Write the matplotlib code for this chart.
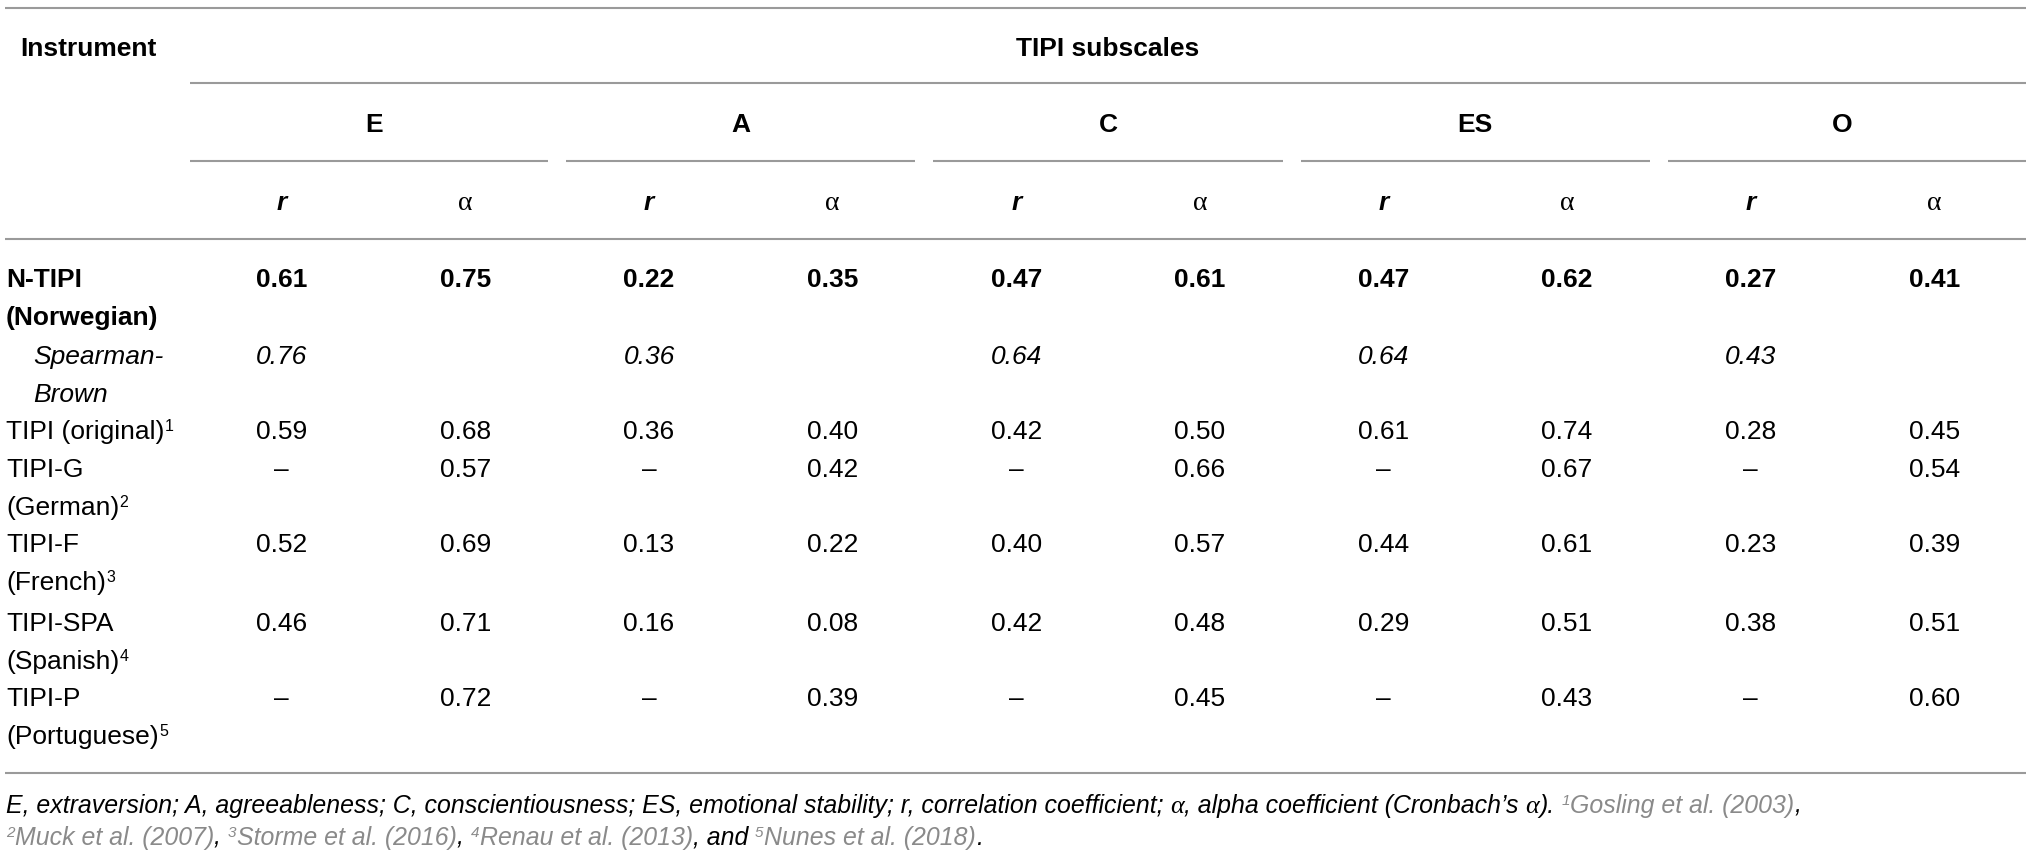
import numpy as np
import matplotlib
matplotlib.use("Agg")
import matplotlib.pyplot as plt

# ---------------- data ----------------
subscales = ["E", "A", "C", "ES", "O"]
stat_labels = ["r", "α"]

instruments = ["N-TIPI", "Spearman-", "TIPI (original)", "TIPI-G", "TIPI-F", "TIPI-SPA", "TIPI-P"]
instrument_line2 = ["(Norwegian)", "Brown", "", "(German)", "(French)", "(Spanish)", "(Portuguese)"]
instrument_refs = ["", "", "1", "2", "3", "4", "5"]

NA = np.nan      # shown as an en dash
BL = None        # blank cell
E_r  = [0.61, 0.76, 0.59, NA, 0.52, 0.46, NA]
E_a  = [0.75, BL,   0.68, 0.57, 0.69, 0.71, 0.72]
A_r  = [0.22, 0.36, 0.36, NA, 0.13, 0.16, NA]
A_a  = [0.35, BL,   0.40, 0.42, 0.22, 0.08, 0.39]
C_r  = [0.47, 0.64, 0.42, NA, 0.40, 0.42, NA]
C_a  = [0.61, BL,   0.50, 0.66, 0.57, 0.48, 0.45]
ES_r = [0.47, 0.64, 0.61, NA, 0.44, 0.29, NA]
ES_a = [0.62, BL,   0.74, 0.67, 0.61, 0.51, 0.43]
O_r  = [0.27, 0.43, 0.28, NA, 0.23, 0.38, NA]
O_a  = [0.41, BL,   0.45, 0.54, 0.39, 0.51, 0.60]
columns = [E_r, E_a, A_r, A_a, C_r, C_a, ES_r, ES_a, O_r, O_a]

footnote_line1 = [
    ("E, extraversion; A, agreeableness; C, conscientiousness; ES, emotional stability; r, correlation coefficient; ", "txt"),
    ("α", "alpha"),
    (", alpha coefficient (Cronbach’s ", "txt"),
    ("α", "alpha"),
    ("). ", "txt"),
    ("1", "sup"),
    ("Gosling et al. (2003)", "ref"),
    (",", "txt"),
]
footnote_line2 = [
    ("2", "sup"), ("Muck et al. (2007)", "ref"), (", ", "txt"),
    ("3", "sup"), ("Storme et al. (2016)", "ref"), (", ", "txt"),
    ("4", "sup"), ("Renau et al. (2013)", "ref"), (", and ", "txt"),
    ("5", "sup"), ("Nunes et al. (2018)", "ref"), (".", "txt"),
]

# ---------------- layout ----------------
W, H = 2032, 859
FONT = "Liberation Sans"
SERIF = "Liberation Serif"
FS = 19
FS_FOOT = 17.9
LINE_C = "#9a9a9a"
REF_C = "#8a8a8a"

fig = plt.figure(figsize=(W / 100, H / 100), dpi=100)
ax = fig.add_axes([0, 0, 1, 1])
ax.set_xlim(0, W)
ax.set_ylim(H, 0)
ax.axis("off")
fig.canvas.draw()
renderer = fig.canvas.get_renderer()

x_left, x_right = 5, 2026
x_data0 = 190
col_w = (x_right - x_data0) / 10.0
col_centers = [x_data0 + col_w * (i + 0.5) for i in range(10)]

def hline(y, x0, x1):
    ax.plot([x0, x1], [y, y], color=LINE_C, lw=1.5, solid_capstyle="butt")

# horizontal rules
hline(8, x_left, x_right)
hline(83, x_data0, x_right)
for g in range(5):
    g0 = x_data0 + 2 * g * col_w
    g1 = g0 + 2 * col_w
    a = g0 if g == 0 else g0 + 9
    b = x_right if g == 4 else g1 - 9
    hline(161, a, b)
hline(239, x_left, x_right)
hline(773, x_left, x_right)

# header texts
ax.text(20, 56, "Instrument", fontsize=FS, fontweight="bold", family=FONT, va="baseline", ha="left")
ax.text((x_data0 + x_right) / 2, 56, "TIPI subscales", fontsize=FS, fontweight="bold",
        family=FONT, va="baseline", ha="center")
for g, name in enumerate(subscales):
    cx = (col_centers[2 * g] + col_centers[2 * g + 1]) / 2
    ax.text(cx, 132, name, fontsize=FS, fontweight="bold", family=FONT, va="baseline", ha="center")
for i in range(10):
    if i % 2 == 0:
        ax.text(col_centers[i], 210, stat_labels[0], fontsize=FS, fontweight="bold", style="italic",
                family=FONT, va="baseline", ha="center")
    else:
        ax.text(col_centers[i], 210, stat_labels[1], fontsize=FS + 1, family=SERIF,
                va="baseline", ha="center")

# body rows
row_y = [278, 355, 430, 468, 543, 622, 697]
line_gap = 38
for r, yc in enumerate(row_y):
    yb = yc + 9
    kw = dict(fontsize=FS, family=FONT, va="baseline", ha="left")
    style = {}
    x_lab = 6
    if r == 0:
        style = dict(fontweight="bold")
    elif r == 1:
        style = dict(style="italic")
        x_lab = 33
    t = ax.text(x_lab, yb, instruments[r], **kw, **style)
    if instrument_line2[r]:
        t2 = ax.text(x_lab, yb + line_gap, instrument_line2[r], **kw, **style)
        last, ylast = t2, yb + line_gap
    else:
        last, ylast = t, yb
    if instrument_refs[r]:
        bb = last.get_window_extent(renderer=renderer)
        ax.text(bb.x1 + 0.5, ylast - 8, instrument_refs[r], fontsize=11.5, family=FONT,
                va="baseline", ha="left")
    for c in range(10):
        v = columns[c][r]
        if v is None:
            continue
        s = "–" if (isinstance(v, float) and np.isnan(v)) else f"{v:.2f}"
        ax.text(col_centers[c], yb, s, fontsize=FS, family=FONT, va="baseline", ha="center", **style)

# footnote
def draw_runs(x, yb, runs):
    for s, kind in runs:
        if kind == "txt":
            t = ax.text(x, yb, s, fontsize=FS_FOOT, family=FONT, style="italic", color="black",
                        va="baseline", ha="left")
        elif kind == "ref":
            t = ax.text(x, yb, s, fontsize=FS_FOOT, family=FONT, style="italic", color=REF_C,
                        va="baseline", ha="left")
        elif kind == "alpha":
            t = ax.text(x, yb, s, fontsize=FS_FOOT + 1, family=SERIF, style="italic", color="black",
                        va="baseline", ha="left")
        else:  # superscript
            t = ax.text(x, yb - 8, s, fontsize=11, family=FONT, style="italic", color=REF_C,
                        va="baseline", ha="left")
        bb = t.get_window_extent(renderer=renderer)
        x = bb.x1 + (0 if kind != "sup" else 0.5)

draw_runs(6, 813, footnote_line1)
draw_runs(6, 845, footnote_line2)

fig.savefig("out.png", dpi=100)
